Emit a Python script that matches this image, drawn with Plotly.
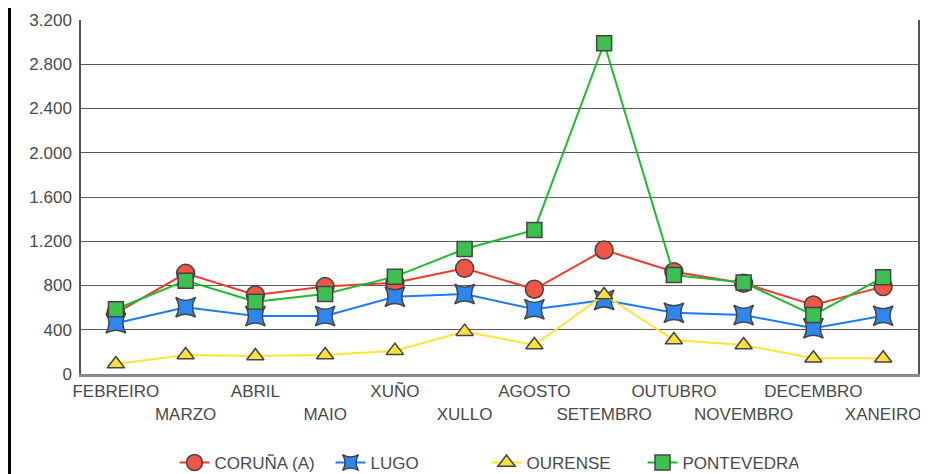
import plotly.graph_objects as go

months = ["FEBREIRO", "MARZO", "ABRIL", "MAIO", "XUÑO", "XULLO", "AGOSTO",
          "SETEMBRO", "OUTUBRO", "NOVEMBRO", "DECEMBRO", "XANEIRO"]
coruna = [551, 910, 714, 790, 825, 955, 766, 1121, 925, 820, 624, 790]
lugo = [458, 603, 524, 524, 699, 723, 585, 669, 554, 533, 413, 527]
ourense = [90, 172, 163, 172, 211, 383, 262, 714, 307, 262, 142, 142]
pontevedra = [585, 844, 654, 723, 880, 1130, 1302, 2990, 895, 826, 533, 874]
y_ticks = [0, 400, 800, 1200, 1600, 2000, 2400, 2800, 3200]

series = [
    ("CORUÑA (A)", coruna, "#F4372A", "#F05545", "circle", 18, 0),
    ("LUGO", lugo, "#1A7BFF", "#2E86F0", "star-diamond", 20, 45),
    ("OURENSE", ourense, "#FFE433", "#FFE03A", "triangle-up", 15, 0),
    ("PONTEVEDRA", pontevedra, "#1FBB2E", "#3CC050", "square", 15, 0),
]

xpos = list(range(len(months)))
fig = go.Figure()
for name, vals, lc, fc, sym, sz, ang in series:
    fig.add_trace(go.Scatter(
        x=xpos, y=vals, name=name, mode="lines+markers",
        line=dict(color=lc, width=2),
        marker=dict(symbol=sym, size=sz, color=fc, angle=ang,
                    line=dict(color="#444444", width=1.5)),
    ))

ticktext = [m if i % 2 == 0 else "<br>" + m for i, m in enumerate(months)]

# the page body adds an 8px offset, so the figure is sized 8px smaller
font = dict(family="Liberation Sans", size=17, color="#4a4a4a")
fig.update_layout(
    width=920, height=466,
    margin=dict(l=73, r=10, t=12, b=100, autoexpand=False),
    paper_bgcolor="white", plot_bgcolor="white",
    separators=",.",
    font=font,
    showlegend=True,
    legend=dict(orientation="h", x=0.4845, xanchor="center", y=-0.2514, yanchor="middle",
                entrywidth=111, font=font, itemwidth=30),
    xaxis=dict(range=[-0.5, 11.5], tickvals=xpos, ticktext=ticktext, tickangle=0,
               showgrid=False, zeroline=False, showline=True, automargin=False,
               linecolor="#8a8a8a", linewidth=3, ticks="", tickfont=font),
    yaxis=dict(range=[0, 3200], tickvals=y_ticks, tickformat=",d", automargin=False,
               showgrid=True, gridcolor="#5a5a5a", gridwidth=1,
               zeroline=False, showline=True, linecolor="#555555", linewidth=1.5,
               mirror=True, ticks="", tickfont=font, ticklabelstandoff=4),
    shapes=[dict(type="line", xref="paper", yref="paper",
                 x0=-0.0854, x1=-0.0854, y0=-0.32, y1=1.05,
                 line=dict(color="black", width=3))],
)
fig.write_html("out.html")
